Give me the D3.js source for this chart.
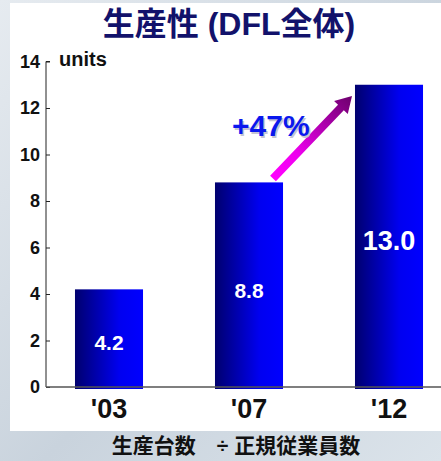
<!DOCTYPE html>
<html>
<head>
<meta charset="utf-8">
<script src="https://cdn.jsdelivr.net/npm/d3@7"></script>
<style>
  html, body { margin: 0; padding: 0; }
  body { width: 441px; height: 461px; overflow: hidden; }
  text { font-family: "Liberation Sans", Arial, "Noto Sans CJK JP", sans-serif; font-weight: bold; }
</style>
</head>
<body>
<svg id="chart" width="441" height="461"></svg>
<script>
// ── Data ──────────────────────────────────────────────────────────────────
const years   = ["'03", "'07", "'12"];
const values  = [4.2, 8.8, 13.0];
const yTicks  = [0, 2, 4, 6, 8, 10, 12, 14];
const growth  = '+47%';

const svg = d3.select('#chart');
const defs = svg.append('defs');

// background
const bg = defs.append('linearGradient').attr('id', 'bg')
  .attr('x1', 0).attr('y1', 0).attr('x2', 1).attr('y2', 1);
bg.append('stop').attr('offset', '0%').attr('stop-color', '#e6ebf0');
bg.append('stop').attr('offset', '55%').attr('stop-color', '#c9d3dd');
bg.append('stop').attr('offset', '100%').attr('stop-color', '#dbe3ea');
svg.append('rect').attr('width', 441).attr('height', 461).attr('fill', 'url(#bg)');
svg.append('rect').attr('x', 10).attr('y', 3).attr('width', 431).attr('height', 428).attr('fill', '#fff');

// bar gradient
const bar = defs.append('linearGradient').attr('id', 'barGrad')
  .attr('x1', 0).attr('y1', 0).attr('x2', 1).attr('y2', 0);
bar.append('stop').attr('offset', '0%').attr('stop-color', '#00006e');
bar.append('stop').attr('offset', '65%').attr('stop-color', '#0000f0');
bar.append('stop').attr('offset', '100%').attr('stop-color', '#0000ff');

// ── Scales ────────────────────────────────────────────────────────────────
const x = d3.scaleBand().domain(years).range([39, 459]).paddingInner(0.514).paddingOuter(0.257);
const y = d3.scaleLinear().domain([0, 14]).range([387, 61.5]);

// ── Title ─────────────────────────────────────────────────────────────────
svg.append('text')
  .attr('x', 229).attr('y', 35).attr('text-anchor', 'middle')
  .attr('font-size', 32).attr('fill', '#12126b')
  .text('生産性 (DFL全体)');

// ── Bars ──────────────────────────────────────────────────────────────────
svg.selectAll('.bar').data(values).join('rect')
  .attr('class', 'bar')
  .attr('x', (d, i) => x(years[i]))
  .attr('width', x.bandwidth())
  .attr('y', d => y(d))
  .attr('height', d => y(0) - y(d) + 2)
  .attr('fill', 'url(#barGrad)');

// ── Axes ──────────────────────────────────────────────────────────────────
const yAxis = svg.append('g').attr('transform', 'translate(46,0)')
  .call(d3.axisRight(y).tickValues(yTicks).tickSize(4).tickFormat(''));
yAxis.select('.domain').attr('d', `M4,${y(14)}H0V${y(0)}`).attr('stroke', '#222');
yAxis.selectAll('.tick line').attr('stroke', '#222');

svg.append('g').selectAll('text').data(yTicks).join('text')
  .attr('x', 40).attr('y', d => y(d)).attr('dy', '0.36em')
  .attr('text-anchor', 'end').attr('font-size', 18).attr('fill', '#111')
  .text(d => d);

svg.append('line').attr('x1', 46).attr('x2', 441)
  .attr('y1', y(0)).attr('y2', y(0))
  .attr('stroke', '#555').attr('stroke-width', 1.5);

svg.append('g').selectAll('text').data(years).join('text')
  .attr('x', d => x(d) + x.bandwidth() / 2).attr('y', 418)
  .attr('text-anchor', 'middle').attr('font-size', 27).attr('fill', '#111')
  .text(d => d);

svg.append('text').attr('x', 59).attr('y', 66)
  .attr('font-size', 20).attr('fill', '#111').text('units');

// ── Value labels ──────────────────────────────────────────────────────────
svg.append('g').selectAll('text').data(values).join('text')
  .attr('x', (d, i) => x(years[i]) + x.bandwidth() / 2)
  .attr('y', (d, i) => [350, 298, 250][i])
  .attr('text-anchor', 'middle')
  .attr('font-size', (d, i) => i === 2 ? 27 : 21)
  .attr('fill', '#fff')
  .text(d => d.toFixed(1));

// ── Growth arrow ──────────────────────────────────────────────────────────
// from top of '07 bar towards top of '12 bar
const x0 = 273, y0 = y(values[1]) - 4, x1 = 352, y1 = 96;
const ang = Math.atan2(y1 - y0, x1 - x0);
const len = Math.hypot(x1 - x0, y1 - y0);
const sw = 4, hw = 9.5, hl = 16;

// gradient lives in the arrow's rotated frame
const arr = defs.append('linearGradient').attr('id', 'arrGrad')
  .attr('gradientUnits', 'userSpaceOnUse')
  .attr('x1', 0).attr('y1', 0).attr('x2', len).attr('y2', 0);
arr.append('stop').attr('offset', '0%').attr('stop-color', '#ff00ff');
arr.append('stop').attr('offset', '30%').attr('stop-color', '#ee00ee');
arr.append('stop').attr('offset', '100%').attr('stop-color', '#6c006c');

svg.append('path')
  .attr('d', `M0,${-sw}L${len - hl},${-sw}L${len - hl},${-hw}L${len},0L${len - hl},${hw}L${len - hl},${sw}L0,${sw}Z`)
  .attr('transform', `translate(${x0},${y0}) rotate(${ang * 180 / Math.PI})`)
  .attr('fill', 'url(#arrGrad)');

svg.append('text').attr('x', 232).attr('y', 136)
  .attr('font-size', 30).attr('fill', '#c4c4d4').attr('transform', 'translate(1.5,1.5)')
  .text(growth);
svg.append('text').attr('x', 232).attr('y', 136)
  .attr('font-size', 30).attr('fill', '#0a18ee')
  .text(growth);

// ── Footnote ──────────────────────────────────────────────────────────────
svg.append('text')
  .attr('x', 236).attr('y', 453).attr('text-anchor', 'middle')
  .attr('font-size', 21).attr('fill', '#111')
  .text('生産台数　÷ 正規従業員数');
</script>
</body>
</html>
